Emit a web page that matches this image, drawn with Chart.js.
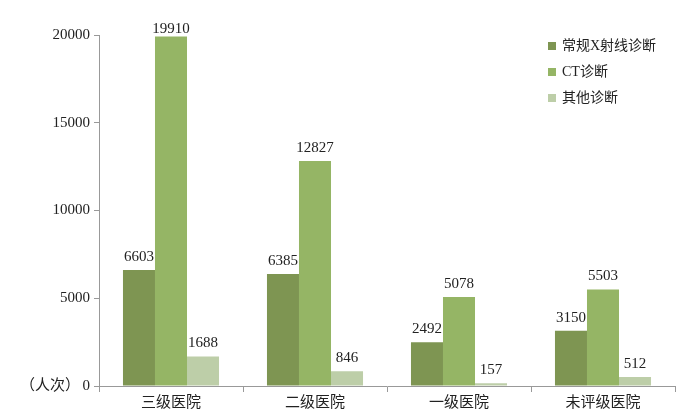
<!DOCTYPE html>
<html><head><meta charset="utf-8">
<script src="https://cdn.jsdelivr.net/npm/chart.js@4/dist/chart.umd.min.js"></script>
<style>html,body{margin:0;padding:0;background:#fff}#wrap{width:693px;height:419px}</style>
</head><body><div id="wrap"><canvas id="c"></canvas></div>
<script>
const categories = ["三级医院", "二级医院", "一级医院", "未评级医院"];
const seriesNames = ["常规X射线诊断", "CT诊断", "其他诊断"];
const xray = [6603, 6385, 2492, 3150];
const ct = [19910, 12827, 5078, 5503];
const other = [1688, 846, 157, 512];
const yTicks = [0, 5000, 10000, 15000, 20000];
const colors = ["#7e9552", "#95b565", "#bdcea8"];
const FONT = "'Liberation Serif', 'Noto Sans CJK SC', serif";

const labelPlugin = {
  id: 'labels',
  afterDatasetsDraw(chart) {
    const ctx = chart.ctx;
    ctx.save();
    ctx.font = "15px " + FONT;
    ctx.fillStyle = "#222";
    ctx.textAlign = "center";
    ctx.textBaseline = "alphabetic";
    const minBase = chart.chartArea.top - 2;
    chart.data.datasets.forEach((ds, i) => {
      chart.getDatasetMeta(i).data.forEach((bar, j) => {
        ctx.fillText(String(ds.data[j]), bar.x, Math.max(bar.y - 9, minBase));
      });
    });
    // unit label
    const ys = chart.scales.y;
    ctx.textAlign = "right";
    ctx.textBaseline = "middle";
    ctx.font = "15px " + FONT;
    ctx.fillText("（人次）", 80, ys.getPixelForValue(0));
    // legend
    ctx.textAlign = "left";
    ctx.font = "14px " + FONT;
    chart.data.datasets.forEach((ds, i) => {
      const y = 46 + i * 26;
      ctx.fillStyle = ds.backgroundColor;
      ctx.fillRect(548, y - 4, 8, 8);
      ctx.fillStyle = "#222";
      ctx.fillText(ds.label, 562, y);
    });
    ctx.restore();
  }
};

new Chart(document.getElementById('c'), {
  type: 'bar',
  data: {
    labels: categories,
    datasets: [
      { label: seriesNames[0], data: xray, backgroundColor: colors[0] },
      { label: seriesNames[1], data: ct, backgroundColor: colors[1] },
      { label: seriesNames[2], data: other, backgroundColor: colors[2] }
    ]
  },
  options: {
    responsive: true, maintainAspectRatio: false, animation: false,
    layout: { padding: { left: 0, right: 18, top: 35, bottom: 5 } },
    datasets: { bar: { categoryPercentage: 0.667, barPercentage: 1.0 } },
    plugins: { legend: { display: false }, tooltip: { enabled: false } },
    scales: {
      x: {
        grid: { drawOnChartArea: false, color: "#999", tickLength: 6, offset: true },
        border: { color: "#999" },
        ticks: { color: "#222", font: { size: 15, family: FONT }, padding: 2 }
      },
      y: {
        min: 0, max: 20000,
        afterBuildTicks: s => { s.ticks = yTicks.map(v => ({ value: v })); },
        afterFit: s => { s.width = 99; },
        grid: { drawOnChartArea: false, color: "#999", tickLength: 5 },
        border: { color: "#999" },
        ticks: { color: "#222", font: { size: 15, family: FONT }, padding: 4, callback: v => String(v) }
      }
    }
  },
  plugins: [labelPlugin]
});
</script></body></html>
